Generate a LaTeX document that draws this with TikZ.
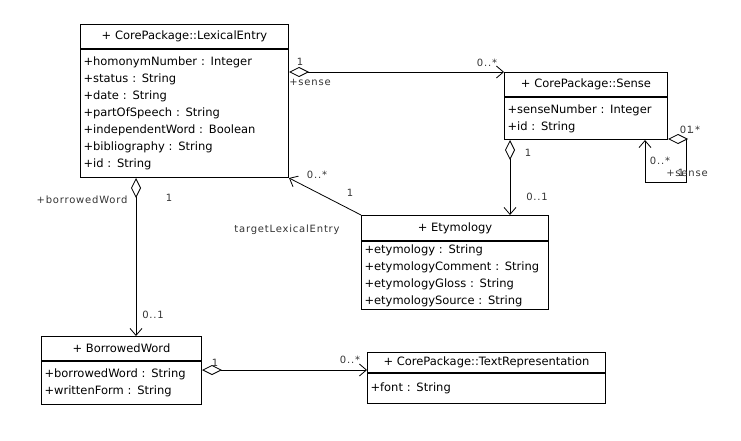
\documentclass[tikz,border=0pt]{standalone}
\usepackage{fontspec}
\setmainfont{DejaVu Sans}
\newfontfamily\lblfont[LetterSpace=8]{DejaVu Sans}
\usepackage{tikz}
\usetikzlibrary{arrows.meta, positioning}

\begin{document}
\begin{tikzpicture}
  [
    x=1pt, y=-1pt,
    Head/.style={draw=black, line width=1pt, anchor=north west, inner sep=0pt, font=\fontsize{11.5}{17}\selectfont},
    Body/.style={draw=black, line width=1pt, anchor=north west, inner xsep=3pt, inner ysep=0pt, align=left, font=\fontsize{11.5}{17}\selectfont},
    Lbl/.style={font=\lblfont\fontsize{10}{12}\selectfont, text=black!80, inner sep=0pt},
    Agg/.style={{Diamond[open, length=20pt, width=10pt]}-{Straight Barb[length=7pt, width=12pt]}, line width=0.8pt},
    Nav/.style={-{Straight Barb[length=7pt, width=12pt]}, line width=0.8pt}
  ]
  \useasboundingbox (0, 0) rectangle (741, 441);

  % Nodes (x, y)
  \node[Head, minimum width=208pt, minimum height=24pt] (h0) at(80, 24) {+ CorePackage::LexicalEntry};
  \node[Body, text width=202pt, minimum height=128pt] (b0) at(h0.south west)
    {+homonymNumber : Integer\\+status : String\\+date : String\\+partOfSpeech : String\\+independentWord : Boolean\\+bibliography : String\\+id : String};
  \node[Head, minimum width=163pt, minimum height=24pt] (h1) at(504, 72) {+ CorePackage::Sense};
  \node[Body, text width=157pt, minimum height=42pt] (b1) at(h1.south west)
    {+senseNumber : Integer\\+id : String};
  \node[Head, minimum width=187pt, minimum height=25pt] (h2) at(361, 215) {+ Etymology};
  \node[Body, text width=181pt, minimum height=68pt] (b2) at(h2.south west)
    {+etymology : String\\+etymologyComment : String\\+etymologyGloss : String\\+etymologySource : String};
  \node[Head, minimum width=160pt, minimum height=24pt] (h3) at(41, 336) {+ BorrowedWord};
  \node[Body, text width=154pt, minimum height=43pt] (b3) at(h3.south west)
    {+borrowedWord : String\\+writtenForm : String};
  \node[Head, minimum width=238pt, minimum height=20pt] (h4) at(367, 352) {+ CorePackage::TextRepresentation};
  \node[Body, text width=232pt, minimum height=30pt] (b4) at(h4.south west)
    {+font : String};

  % Lines
  % LexicalEntry <>-> Sense
  \path [Agg, draw] (b0.east |- h1.north west) -- (h1.north west);
  % Sense <>-> Etymology
  \path [Agg, draw] ([xshift=6pt]b1.south west) -- ([xshift=6pt]b1.south west |- h2.north);
  % Sense <>-> Sense
  \path [Agg, draw] ([yshift=1pt]b1.south east) -- ++(18, 0) -- ++(0, 43) -| ([xshift=-23pt]b1.south east);
  % Etymology -> LexicalEntry
  \path [Nav, draw] (h2.north west) -- (b0.south east);
  % LexicalEntry <>-> BorrowedWord
  \path [Agg, draw] ([xshift=56pt]b0.south west) -- ([xshift=56pt]b0.south west |- h3.north);
  % BorrowedWord <>-> TextRepresentation
  \path [Agg, draw] ([yshift=-9pt]b3.north east) -- ([yshift=-9pt]b3.north east -| h4.west);

  % Labels
  \node[Lbl] (l0) at(300, 62) {1};
  \node[Lbl] (l1) at(310, 82) {+sense};
  \node[Lbl] (l2) at(487, 63) {0..*};
  \node[Lbl] (l3) at(528, 153) {1};
  \node[Lbl] (l4) at(537, 197) {0..1};
  \node[Lbl] (l5) at(690, 130) {0..*};
  \node[Lbl] (l6) at(690, 130) {1};
  \node[Lbl] (l7) at(660, 161) {0..*};
  \node[Lbl] (l8) at(687, 173) {+sense};
  \node[Lbl] (l9) at(681, 173) {1};
  \node[Lbl] (l10) at(317, 175) {0..*};
  \node[Lbl] (l11) at(350, 193) {1};
  \node[Lbl] (l12) at(287, 230) {targetLexicalEntry};
  \node[Lbl] (l13) at(82, 200) {+borrowedWord};
  \node[Lbl] (l14) at(169, 198) {1};
  \node[Lbl] (l15) at(153, 315) {0..1};
  \node[Lbl] (l16) at(215, 363) {1};
  \node[Lbl] (l17) at(350, 360) {0..*};

\end{tikzpicture}
\end{document}
